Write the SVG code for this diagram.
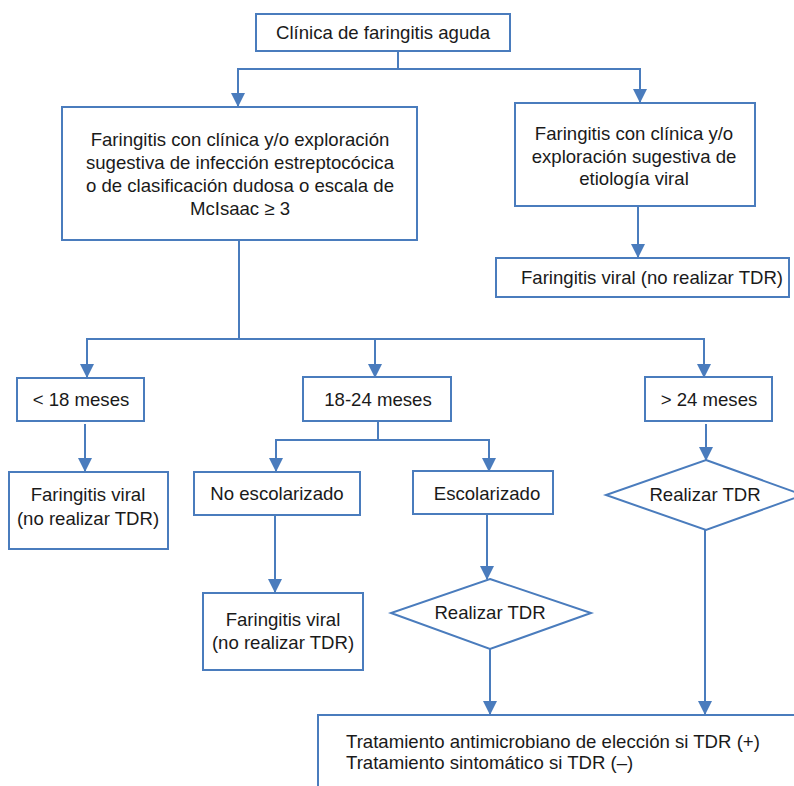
<svg xmlns="http://www.w3.org/2000/svg" width="794" height="786" viewBox="0 0 794 786">
<defs>
<marker id="arr" markerUnits="userSpaceOnUse" markerWidth="14" markerHeight="14" refX="13" refY="7" orient="auto">
<path d="M0,0 L14,7 L0,14 z" fill="#4A7CBD"/>
</marker>
<style>
.box{fill:#fff;stroke:#4A7CBD;stroke-width:2}
.t{font-family:"Liberation Sans",Arial,Helvetica,sans-serif;font-size:18.6px;fill:#1a1a1a;text-anchor:middle}
.tl{text-anchor:start}
.c{fill:none;stroke:#4A7CBD;stroke-width:2}
.ca{fill:none;stroke:#4A7CBD;stroke-width:2;marker-end:url(#arr)}
</style>
</defs>
<rect width="794" height="786" fill="#fff"/>
<g id="connectors">
<path class="c" d="M398,51 V69"/>
<path class="ca" d="M398,69 H238 V106"/>
<path class="ca" d="M398,69 H640 V102"/>
<path class="ca" d="M638,206 V257"/>
<path class="c" d="M239,240 V339"/>
<path class="ca" d="M239,339 H87 V377"/>
<path class="ca" d="M239,339 H375 V377"/>
<path class="ca" d="M375,339 H704 V377"/>
<path class="ca" d="M85,424 V471"/>
<path class="c" d="M378,422 V440"/>
<path class="ca" d="M378,440 H276 V471"/>
<path class="ca" d="M378,440 H489 V471"/>
<path class="ca" d="M706,424 V460"/>
<path class="ca" d="M275,516 V592"/>
<path class="ca" d="M487,514 V579"/>
<path class="ca" d="M490,649 V714"/>
<path class="ca" d="M705,530 V714"/>
</g>
<g id="n1"><rect class="box" x="256" y="14" width="254" height="37"/><text class="t" x="383" y="39">Clínica de faringitis aguda</text></g>
<g id="n2"><rect class="box" x="62" y="107" width="355" height="133"/>
<text class="t" x="240" y="146">Faringitis con clínica y/o exploración</text>
<text class="t" x="240" y="169">sugestiva de infección estreptocócica</text>
<text class="t" x="240" y="192">o de clasificación dudosa o escala de</text>
<text class="t" x="240" y="215">McIsaac ≥ 3</text></g>
<g id="n3"><rect class="box" x="515" y="103" width="240" height="103"/>
<text class="t" x="634" y="140">Faringitis con clínica y/o</text>
<text class="t" x="634" y="163">exploración sugestiva de</text>
<text class="t" x="634" y="185">etiología viral</text></g>
<g id="n4"><rect class="box" x="496" y="258" width="293" height="39"/><text class="t" x="652" y="284">Faringitis viral (no realizar TDR)</text></g>
<g id="n5"><rect class="box" x="17" y="378" width="127" height="43"/><text class="t" x="81" y="406">&lt; 18 meses</text></g>
<g id="n6"><rect class="box" x="303" y="377" width="148" height="44"/><text class="t" x="378" y="406">18-24 meses</text></g>
<g id="n7"><rect class="box" x="645" y="377" width="127" height="44"/><text class="t" x="709" y="406">&gt; 24 meses</text></g>
<g id="n8"><rect class="box" x="9" y="472" width="159" height="77"/>
<text class="t" x="88" y="501">Faringitis viral</text>
<text class="t" x="88" y="525">(no realizar TDR)</text></g>
<g id="n9"><rect class="box" x="194" y="472" width="166" height="43"/><text class="t" x="277" y="500">No escolarizado</text></g>
<g id="n10"><rect class="box" x="413" y="471" width="140" height="43"/><text class="t" x="487" y="500">Escolarizado</text></g>
<g id="n11"><polygon class="box" points="706,460 803,495 706,530 606,495"/><text class="t" x="705" y="501">Realizar TDR</text></g>
<g id="n12"><rect class="box" x="203" y="593" width="160" height="77"/>
<text class="t" x="283" y="626">Faringitis viral</text>
<text class="t" x="283" y="649">(no realizar TDR)</text></g>
<g id="n13"><polygon class="box" points="490,579 591,613 490,649 391,613"/><text class="t" x="490" y="619">Realizar TDR</text></g>
<g id="n14"><rect class="box" x="318" y="715" width="490" height="90"/>
<text class="t tl" x="346" y="748">Tratamiento antimicrobiano de elección si TDR (+)</text>
<text class="t tl" x="346" y="769">Tratamiento sintomático si TDR (–)</text></g>
</svg>
